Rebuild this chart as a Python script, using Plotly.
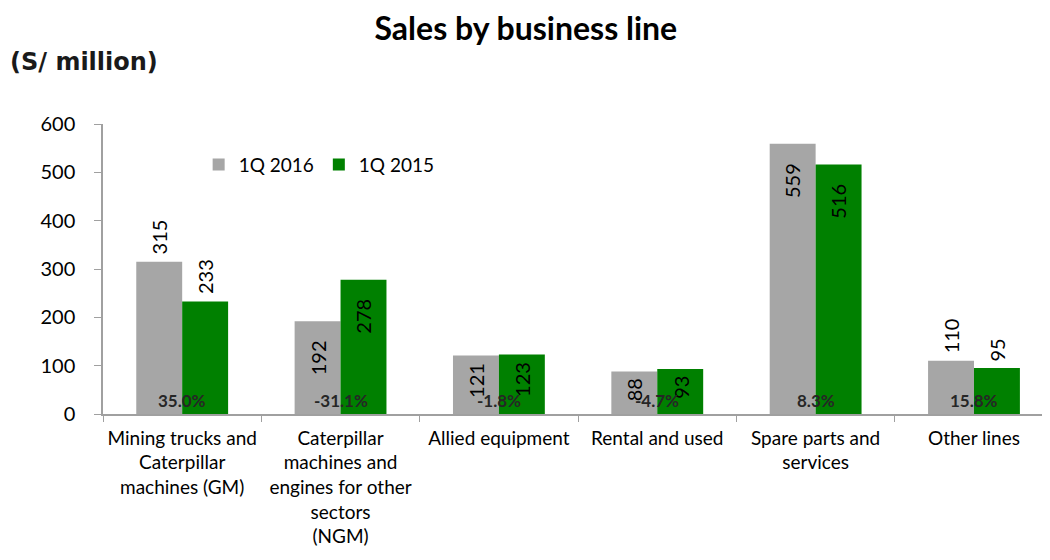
import plotly.graph_objects as go

categories = [
    "Mining trucks and<br>Caterpillar<br>machines (GM)",
    "Caterpillar<br>machines and<br>engines for other<br>sectors<br>(NGM)",
    "Allied equipment",
    "Rental and used",
    "Spare parts and<br>services",
    "Other lines",
]
sales_2016 = [315, 192, 121, 88, 559, 110]
sales_2015 = [233, 278, 123, 93, 516, 95]
growth = ["35.0%", "-31.1%", "-1.8%", "-4.7%", "8.3%", "15.8%"]

FONT = "Lato"
FS = 19
BARGAP = 0.42
# label placement style: inside bar top for the middle groups, above bar otherwise
inside_2016 = [False, True, True, True, True, False]
inside_2015 = [False, True, True, True, True, False]

# page body adds an 8px offset; size the figure so it fills the 1050x560 window
W, H = 1042, 552

fig = go.Figure()
fig.add_trace(go.Bar(
    name="1Q 2016", x=categories, y=sales_2016,
    marker=dict(color="#A6A6A6", line=dict(width=0)),
))
fig.add_trace(go.Bar(
    name="1Q 2015", x=categories, y=sales_2015,
    marker=dict(color="#008000", line=dict(width=0)),
))

annotations = []
half = (1 - BARGAP) / 4.0  # centre offset of each bar in a 2-bar group (category units)
for series, inside, side in ((sales_2016, inside_2016, -1), (sales_2015, inside_2015, 1)):
    for i, v in enumerate(series):
        gap = 17 if v > 150 else 5
        annotations.append(dict(
            x=i + side * half, y=v, xref="x", yref="y", text=str(v),
            textangle=-90, showarrow=False,
            yanchor="top" if inside[i] else "bottom",
            yshift=-gap if inside[i] else 5,
            font=dict(family=FONT, size=20, color="black"),
        ))
for i, g in enumerate(growth):
    annotations.append(dict(
        x=i, y=0, xref="x", yref="y", text="<b>" + g + "</b>",
        showarrow=False, yanchor="bottom", yshift=1,
        font=dict(family=FONT, size=17, color="#262626"),
    ))
annotations.append(dict(
    text="<b>(S/ million)</b>", xref="paper", yref="paper",
    x=-0.1003, y=1.214, xanchor="left", yanchor="middle", showarrow=False,
    font=dict(family="DejaVu Sans", size=24, color="#1a1a1a"),
))

fig.update_layout(
    width=W, height=H,
    paper_bgcolor="white", plot_bgcolor="white",
    margin=dict(l=95, r=0, t=116, b=146),
    barmode="group", bargap=BARGAP, bargroupgap=0,
    font=dict(family=FONT, size=FS, color="black"),
    title=dict(text="<b>Sales by business line</b>", x=0.497, xref="container",
               xanchor="center", y=0.963, yref="container", yanchor="middle",
               pad=dict(t=0, b=0, l=0, r=0),
               font=dict(family=FONT, size=32, color="black")),
    legend=dict(orientation="h", x=0.101, y=0.86, xanchor="left", yanchor="middle",
                font=dict(family=FONT, size=FS), bgcolor="rgba(0,0,0,0)",
                itemwidth=30, traceorder="normal"),
    annotations=annotations,
)
fig.update_xaxes(
    type="category", range=[-0.5, 5.48], automargin=False,
    showline=True, linecolor="#A0A0A0", linewidth=1.5,
    ticks="outside", ticklen=6, tickcolor="#A0A0A0", tickson="boundaries",
    tickfont=dict(family=FONT, size=FS, color="black"), tickangle=0,
    ticklabelstandoff=6,
    showgrid=False, zeroline=False,
)
fig.update_yaxes(
    range=[0, 600], dtick=100, automargin=False,
    showline=True, linecolor="#A0A0A0", linewidth=1.5,
    ticks="outside", ticklen=7, tickcolor="#A0A0A0",
    tickfont=dict(family=FONT, size=20, color="black"),
    ticklabelstandoff=15,
    showgrid=False, zeroline=False,
)

fig.write_html("out.html")
